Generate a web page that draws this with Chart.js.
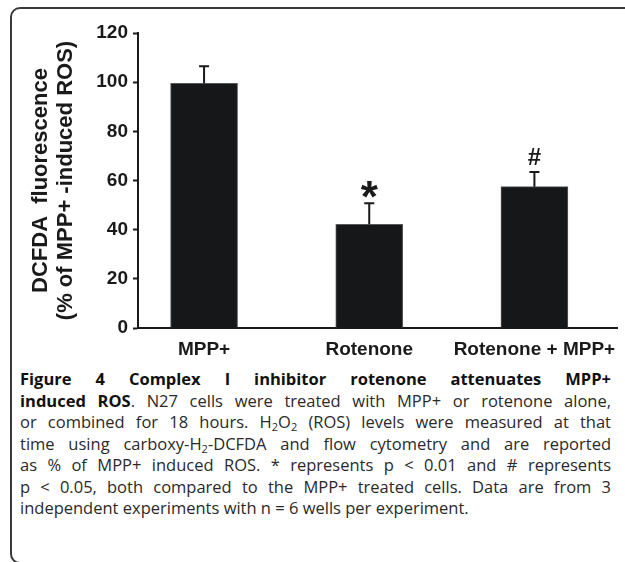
<html>
  <head>
    <script src="https://cdn.jsdelivr.net/npm/chart.js"></script>
    <style>
      body {
        margin: 0;
        width: 625px;
        height: 562px;
        overflow: hidden;
        background: #fff;
        position: relative;
      }
      #frame {
        position: absolute;
        left: 10px;
        top: 7px;
        width: 640px;
        height: 557px;
        border: 2px solid #3a3a3a;
        border-radius: 10px;
        box-sizing: border-box;
      }
      #roschart {
        position: absolute;
        left: 0;
        top: 0;
      }
      #caption {
        position: absolute;
        left: 20px;
        top: 368px;
        width: 591px;
        font-family: "Open Sans", sans-serif;
        font-size: 16.5px;
        line-height: 21.5px;
        color: #2a2a2a;
      }
      #caption b {
        color: #111;
      }
      #caption div {
        text-align: justify;
        text-align-last: justify;
        white-space: nowrap;
      }
      #caption div.last {
        text-align-last: left;
      }
      #caption sub {
        font-size: 11px;
        line-height: 0;
        vertical-align: -3px;
      }
    </style>
  </head>
  <body>
    <div id="frame"></div>
    <canvas id="roschart" width="625" height="365"></canvas>
    <div id="caption">
      <div><b>Figure 4 Complex I inhibitor rotenone attenuates MPP+</b></div>
      <div><b>induced ROS</b>. N27 cells were treated with MPP+ or rotenone alone,</div>
      <div>or combined for 18 hours. H<sub>2</sub>O<sub>2</sub> (ROS) levels were measured at that</div>
      <div>time using carboxy-H<sub>2</sub>-DCFDA and flow cytometry and are reported</div>
      <div>as % of MPP+ induced ROS. * represents p &lt; 0.01 and # represents</div>
      <div>p &lt; 0.05, both compared to the MPP+ treated cells. Data are from 3</div>
      <div class="last">independent experiments with n = 6 wells per experiment.</div>
    </div>
    <script>
      // Data
      const categories = ["MPP+", "Rotenone", "Rotenone + MPP+"];
      const meanValues = [99.5, 42.2, 57.5];
      const semValues = [7.0, 8.5, 6.0];
      const markers = ["", "*", "#"];
      const yTitle = ["DCFDA  fluorescence", "(% of MPP+ -induced ROS)"];

      const ink = "#1a1a1a";

      // error bars + significance marks
      const errorBars = {
        id: "errorBars",
        afterDatasetsDraw(chart) {
          const ctx = chart.ctx;
          const xs = chart.scales.x;
          const ys = chart.scales.y;
          ctx.save();
          ctx.strokeStyle = ink;
          ctx.fillStyle = ink;
          ctx.lineWidth = 2;
          for (let i = 0; i < categories.length; i++) {
            const x = xs.getPixelForValue(i);
            const yBar = ys.getPixelForValue(meanValues[i]);
            const yTop = ys.getPixelForValue(meanValues[i] + semValues[i]);
            ctx.beginPath();
            ctx.moveTo(x, yBar);
            ctx.lineTo(x, yTop);
            ctx.moveTo(x - 5, yTop);
            ctx.lineTo(x + 5, yTop);
            ctx.stroke();
            if (markers[i]) {
              ctx.textAlign = "center";
              ctx.textBaseline = "alphabetic";
              let gap = 7;
              if (markers[i] == "*") {
                ctx.font = "bold 44px 'Liberation Sans'";
                gap = 5;
              } else {
                ctx.font = "bold 24px 'Liberation Sans'";
              }
              // put the bottom of the glyph a few px above the cap
              const m = ctx.measureText(markers[i]);
              ctx.fillText(markers[i], x, yTop - gap - m.actualBoundingBoxDescent);
            }
          }
          ctx.restore();
        },
      };

      new Chart(document.getElementById("roschart"), {
        type: "bar",
        data: {
          datasets: [
            {
              data: categories.map((c, i) => ({ x: i, y: meanValues[i] })),
              backgroundColor: "#161718",
              borderColor: "#5a5a5a",
              borderWidth: 1,
              barThickness: 67,
            },
          ],
        },
        plugins: [errorBars],
        options: {
          responsive: false,
          animation: false,
          layout: { padding: { top: 33, right: 8, left: 0, bottom: 0 } },
          plugins: {
            legend: { display: false },
            tooltip: { enabled: false },
          },
          scales: {
            x: {
              type: "linear",
              min: -0.4,
              max: 2.5,
              offset: false,
              grid: { display: false, offset: false },
              border: { color: ink, width: 2 },
              ticks: {
                stepSize: 1,
                includeBounds: false,
                autoSkip: false,
                maxRotation: 0,
                padding: 2,
                color: ink,
                font: { family: "Liberation Sans", size: 19, weight: "bold" },
                callback: (v) => categories[v] ?? "",
              },
              afterFit(s) {
                s.height = 37;
              },
            },
            y: {
              min: 0,
              max: 120,
              ticks: {
                stepSize: 20,
                padding: 5,
                color: ink,
                font: { family: "Liberation Sans", size: 19, weight: "bold" },
              },
              grid: {
                drawOnChartArea: false,
                tickLength: 5,
                tickColor: ink,
                tickWidth: 2,
              },
              border: { color: ink, width: 2 },
              title: {
                display: true,
                text: yTitle,
                color: ink,
                font: { family: "Liberation Sans", size: 22, weight: "bold", lineHeight: 1.15 },
                padding: { top: 28, bottom: 0 },
              },
              afterFit(s) {
                s.width = 138;
              },
            },
          },
        },
      });
    </script>
  </body>
</html>
